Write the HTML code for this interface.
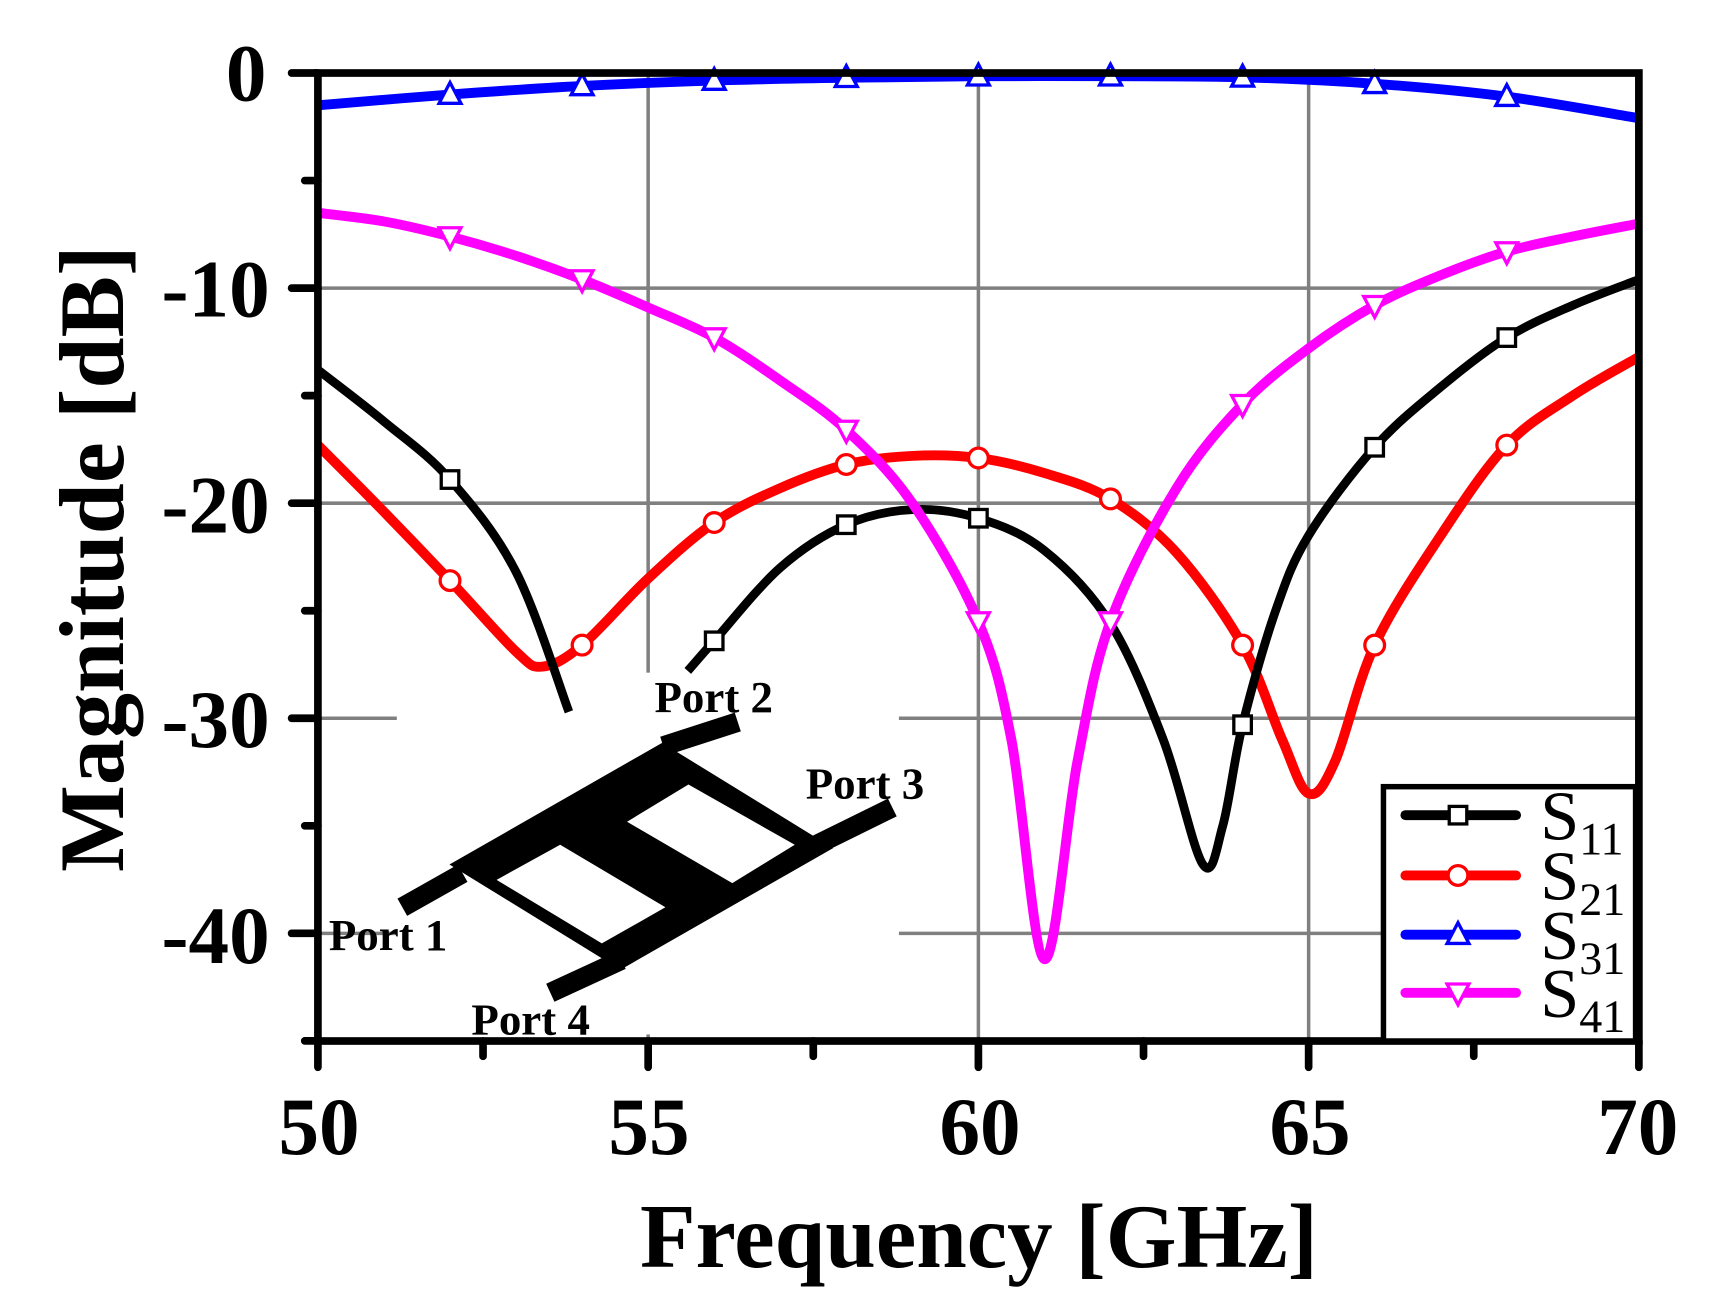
<!DOCTYPE html>
<html><head><meta charset="utf-8"><style>
html,body{margin:0;padding:0;background:#fff;}
svg{display:block;}
</style></head><body>
<svg id="s" width="1720" height="1304" viewBox="0 -1.6 1569 1189.5" xmlns="http://www.w3.org/2000/svg">
<rect x="0" y="-2" width="1569" height="1192" fill="#fff"/>
<g id="grid" stroke="#808080" stroke-width="3.2"></g>
<rect x="362" y="612" width="458" height="330" fill="#fff"/>
<g id="curves" fill="none" stroke-linejoin="round" stroke-linecap="butt"></g>
<g id="marks"></g>
<g fill="#000" stroke="#000" stroke-linecap="butt">
<polygon points="410,787 604,676 760,772 566,883" stroke="none"/>
<polygon points="572,748 628,714 725,769 668,804" fill="#fff" stroke="none"/>
<polygon points="453,801 511,769 607,826 549,859" fill="#fff" stroke="none"/>
<line x1="367" y1="826" x2="422" y2="795" stroke-width="18"/>
<line x1="605" y1="679" x2="673" y2="657" stroke-width="18"/>
<line x1="745" y1="769" x2="814" y2="735" stroke-width="18"/>
<line x1="502" y1="904" x2="567" y2="874" stroke-width="18"/>
</g>
<g font-family="Liberation Serif, serif" font-weight="bold" font-size="41" fill="#000">
<text x="597" y="648">Port 2</text>
<text x="735" y="727">Port 3</text>
<text x="300" y="865">Port 1</text>
<text x="430" y="942">Port 4</text>
</g>
<g stroke="#000" stroke-width="7" stroke-linecap="round" fill="none">
<rect x="290" y="65" width="1205" height="883"/>
<g id="ticks"></g>
</g>
<g>
<rect x="1262" y="716" width="230" height="232" fill="#fff" stroke="#000" stroke-width="5"/>
<g id="leg"></g>
<g font-family="Liberation Serif, serif" fill="#000">
<text x="1405" y="764" font-size="64">S<tspan font-size="42" dy="14">11</tspan></text>
<text x="1405" y="819" font-size="64">S<tspan font-size="42" dy="14">21</tspan></text>
<text x="1405" y="873" font-size="64">S<tspan font-size="42" dy="14">31</tspan></text>
<text x="1405" y="926" font-size="64">S<tspan font-size="42" dy="14">41</tspan></text>
</g>
</g>
<g font-family="Liberation Serif, serif" font-weight="bold" fill="#000">
<g font-size="74" text-anchor="end">
<text x="243" y="90">0</text>
<text x="246" y="287">-10</text>
<text x="246" y="484">-20</text>
<text x="246" y="680">-30</text>
<text x="246" y="877">-40</text>
</g>
<g font-size="74" text-anchor="middle">
<text x="291" y="1051">50</text>
<text x="592" y="1051">55</text>
<text x="894" y="1051">60</text>
<text x="1195" y="1051">65</text>
<text x="1494" y="1051">70</text>
</g>
<text x="893" y="1154" font-size="83" text-anchor="middle">Frequency [GHz]</text>
<text transform="translate(112,508) rotate(-90)" font-size="84" text-anchor="middle">Magnitude [dB]</text>
</g>
</svg>
<script>
var NS="http://www.w3.org/2000/svg";
function X(f){return 290+(f-50)*60.25;}
function Y(d){return 65-d*19.62;}
function el(p,t,a){var e=document.createElementNS(NS,t);for(var k in a)e.setAttribute(k,a[k]);p.appendChild(e);return e;}
var g=document.getElementById('grid');
[55,60,65].forEach(function(f){el(g,'line',{x1:X(f),y1:65,x2:X(f),y2:948});});
[-10,-20,-30,-40].forEach(function(d){el(g,'line',{x1:290,y1:Y(d),x2:1495,y2:Y(d)});});
var t=document.getElementById('ticks');
for(var f=50;f<=70;f+=2.5){var maj=(f%5==0);el(t,'line',{x1:X(f),y1:948,x2:X(f),y2:maj?972:962});}
for(var d=0;d>=-45;d-=5){var maj=(d%10==0);el(t,'line',{x1:maj?266:278,y1:Y(d),x2:290,y2:Y(d)});}
function path(pts){
 var P=pts.map(function(p){return [X(p[0]),Y(p[1])];});
 var s="M"+P[0][0]+","+P[0][1];
 for(var i=0;i<P.length-1;i++){
  var p0=P[i-1]||P[i],p1=P[i],p2=P[i+1],p3=P[i+2]||P[i+1];
  var c1=[p1[0]+(p2[0]-p0[0])/6,p1[1]+(p2[1]-p0[1])/6];
  var c2=[p2[0]-(p3[0]-p1[0])/6,p2[1]-(p3[1]-p1[1])/6];
  s+=" C"+c1+" "+c2+" "+p2;
 }
 return s;
}
var C=document.getElementById('curves');
var S31=[[50,-1.5],[52,-1],[54,-0.6],[56,-0.35],[58,-0.22],[60,-0.15],[62,-0.15],[64,-0.2],[66,-0.5],[68,-1.1],[70,-2.1]];
var S41=[[50,-6.5],[51,-6.9],[52,-7.6],[53,-8.5],[54,-9.6],[55,-10.9],[56,-12.3],[57,-14.3],[58,-16.6],[59,-20],[60,-25.5],[60.5,-31],[61,-41.2],[61.5,-32],[62,-25.5],[63,-19.3],[64,-15.4],[65,-12.8],[66,-10.8],[67,-9.4],[68,-8.3],[69,-7.6],[70,-7]];
var S21=[[50,-17.3],[51,-20.4],[52,-23.6],[53,-26.9],[53.4,-27.6],[54,-26.6],[55,-23.5],[56,-20.9],[57,-19.3],[58,-18.2],[59,-17.8],[60,-17.9],[61,-18.6],[62,-19.8],[63,-22.3],[64,-26.6],[64.6,-31],[65,-33.5],[65.4,-32],[66,-26.6],[67,-21.5],[68,-17.3],[69,-15],[70,-13.2]];
var S11a=[[50,-13.8],[51,-16.2],[52,-18.9],[53,-23.2],[53.8,-29.7]];
var S11b=[[55.6,-27.8],[56,-26.4],[57,-23],[58,-21],[59,-20.3],[60,-20.7],[61,-22.2],[62,-25.6],[62.8,-31],[63.4,-36.8],[63.7,-35],[64,-30.3],[64.5,-25],[65,-21.5],[66,-17.4],[67,-14.6],[68,-12.3],[69,-10.8],[70,-9.6]];
el(C,'path',{d:path(S31),stroke:'#0000ff','stroke-width':9});
el(C,'path',{d:path(S21),stroke:'#ff0000','stroke-width':9});
el(C,'path',{d:path(S11a),stroke:'#000','stroke-width':8});
el(C,'path',{d:path(S11b),stroke:'#000','stroke-width':8});
el(C,'path',{d:path(S41),stroke:'#ff00ff','stroke-width':9});
var M=document.getElementById('marks');
function val(arr,f){for(var i=0;i<arr.length;i++)if(arr[i][0]==f)return arr[i][1];return null;}
function marker(p,type,x,y,col){
 if(type=='sq')el(p,'rect',{x:x-8,y:y-8,width:16,height:16,fill:'#fff',stroke:col,'stroke-width':3});
 if(type=='ci')el(p,'circle',{cx:x,cy:y,r:9,fill:'#fff',stroke:col,'stroke-width':3});
 if(type=='up')el(p,'polygon',{points:(x-10)+','+(y+8)+' '+(x+10)+','+(y+8)+' '+x+','+(y-11),fill:'#fff',stroke:col,'stroke-width':3});
 if(type=='dn')el(p,'polygon',{points:(x-10)+','+(y-8)+' '+(x+10)+','+(y-8)+' '+x+','+(y+11),fill:'#fff',stroke:col,'stroke-width':3});
}
[52,54,56,58,60,62,64,66,68].forEach(function(f){
 marker(M,'up',X(f),Y(val(S31,f)),'#0000ff');
 marker(M,'ci',X(f),Y(val(S21,f)),'#ff0000');
});
[[52,-18.9],[56,-26.4],[58,-21],[60,-20.7],[64,-30.3],[66,-17.4],[68,-12.3]].forEach(function(p){marker(M,'sq',X(p[0]),Y(p[1]),'#000');});
[52,54,56,58,60,62,64,66,68].forEach(function(f){marker(M,'dn',X(f),Y(val(S41,f)),'#ff00ff');});
var L=document.getElementById('leg');
[['#000','sq',742],['#ff0000','ci',797],['#0000ff','up',851],['#ff00ff','dn',904]].forEach(function(a){
 el(L,'line',{x1:1282,y1:a[2],x2:1383,y2:a[2],stroke:a[0],'stroke-width':9,'stroke-linecap':'round'});
 marker(L,a[1],1330,a[2],a[0]);
});
</script>
</body></html>
